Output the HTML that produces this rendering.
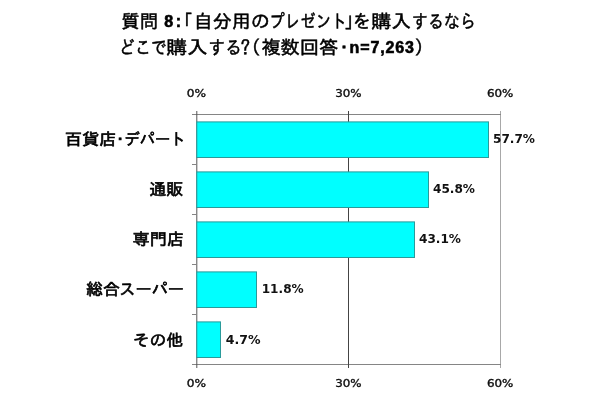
<!DOCTYPE html>
<html lang="ja"><head><meta charset="utf-8"><title>質問8</title>
<style>
html,body{margin:0;padding:0;background:#fff;overflow:hidden}
svg{display:block}
.t{font-family:'Liberation Sans','IPAGothic','Noto Sans CJK JP',sans-serif;font-weight:400;font-size:18.5px;fill:#000;stroke:#000;stroke-width:0.5px}
.t .n{font-size:16px;font-weight:700;stroke-width:0.6px}
.t .q{font-family:'IPAGothic','Liberation Sans','Noto Sans CJK JP',sans-serif}
.l{font-family:'Liberation Sans','IPAGothic','Noto Sans CJK JP',sans-serif;font-weight:400;font-size:16.2px;fill:#000;stroke:#000;stroke-width:0.65px}
.v{font-family:"DejaVu Sans","Liberation Sans",sans-serif;font-weight:bold;font-size:12.5px;fill:#111}
.a{font-family:"DejaVu Sans","Liberation Sans",sans-serif;font-size:11px;fill:#111;stroke:#111;stroke-width:0.4px;text-anchor:middle}
</style></head>
<body>
<svg width="600" height="400" viewBox="0 0 600 400">
<rect width="600" height="400" fill="#fff"/>
<text class="t" y="28.1" xml:space="preserve"><tspan x="121.2" y="28.1">質問</tspan> <tspan class="n" x="164.2" y="27.4" textLength="17.0" lengthAdjust="spacing">8:</tspan><tspan x="174.3" y="28.1">「</tspan><tspan x="193.7" y="28.1" textLength="76.1" lengthAdjust="spacingAndGlyphs">自分用の</tspan><tspan x="269.3" y="28.1" textLength="77.4" lengthAdjust="spacingAndGlyphs">プレゼント</tspan><tspan x="344.2" y="28.1">」</tspan><tspan x="352.5" y="28.1">を</tspan><tspan x="371.3" y="28.1" textLength="39.8" lengthAdjust="spacingAndGlyphs">購入</tspan><tspan x="412.1" y="28.1" textLength="63.5" lengthAdjust="spacingAndGlyphs">するなら</tspan></text>
<text class="t" y="53.9" xml:space="preserve"><tspan x="119.1" y="53.9" textLength="47.8" lengthAdjust="spacingAndGlyphs">どこで</tspan><tspan x="166.2" y="53.9" textLength="41.4" lengthAdjust="spacingAndGlyphs">購入</tspan><tspan x="208.6" y="53.9" textLength="33.2" lengthAdjust="spacingAndGlyphs">する</tspan><tspan class="q" x="240.8" y="53.9">?</tspan><tspan x="241.9" y="53.9">（</tspan><tspan x="261.4" y="53.9" textLength="76.9" lengthAdjust="spacingAndGlyphs">複数回答</tspan><tspan x="334.7" y="53.9">・</tspan><tspan class="n" x="349.5" y="53.2" textLength="64.5" lengthAdjust="spacing">n=7,263</tspan><tspan x="414.4" y="53.9">）</tspan></text>
<g shape-rendering="crispEdges" stroke-width="1">
<line x1="500.5" y1="111" x2="500.5" y2="368" stroke="#a8a8a8"/>
<line x1="192" y1="114.5" x2="501" y2="114.5" stroke="#858585"/>
<line x1="192" y1="364.5" x2="501" y2="364.5" stroke="#858585"/>
<line x1="348.5" y1="111" x2="348.5" y2="368" stroke="#444"/>
<line x1="196.8" y1="111" x2="196.8" y2="368" stroke="#555" shape-rendering="auto"/>
<line x1="192" y1="164.5" x2="197" y2="164.5" stroke="#858585"/>
<line x1="192" y1="214.5" x2="197" y2="214.5" stroke="#858585"/>
<line x1="192" y1="264.5" x2="197" y2="264.5" stroke="#858585"/>
<line x1="192" y1="314.5" x2="197" y2="314.5" stroke="#858585"/>
</g>
<g fill="#00ffff" stroke="#2a9a9a" stroke-width="1">
<rect x="196.8" y="121.9" width="291.7" height="35.6"/>
<rect x="196.8" y="171.9" width="231.7" height="35.6"/>
<rect x="196.8" y="221.9" width="217.7" height="35.6"/>
<rect x="196.8" y="271.9" width="59.7" height="35.6"/>
<rect x="196.8" y="321.9" width="23.7" height="35.6"/>
</g>
<text class="l" y="144.7" xml:space="preserve"><tspan x="64.7" y="144.7" textLength="52.0" lengthAdjust="spacingAndGlyphs">百貨店</tspan><tspan x="112.0" y="144.7">・</tspan><tspan x="124.4" y="144.7" textLength="61.3" lengthAdjust="spacingAndGlyphs">デパート</tspan></text>
<text class="l" y="194.7" xml:space="preserve"><tspan x="149.2" y="194.7" textLength="34.1" lengthAdjust="spacingAndGlyphs">通販</tspan></text>
<text class="l" y="244.7" xml:space="preserve"><tspan x="132.6" y="244.7" textLength="51.6" lengthAdjust="spacingAndGlyphs">専門店</tspan></text>
<text class="l" y="294.7" xml:space="preserve"><tspan x="86.0" y="294.7" textLength="33.8" lengthAdjust="spacingAndGlyphs">総合</tspan><tspan x="119.3" y="294.7">スーパー</tspan></text>
<text class="l" y="345.5" xml:space="preserve"><tspan x="132.8" y="345.5" textLength="50.4" lengthAdjust="spacingAndGlyphs">その他</tspan></text>
<text class="v" x="493" y="143.1" textLength="42.0" lengthAdjust="spacingAndGlyphs">57.7%</text>
<text class="v" x="433" y="193.1" textLength="42.0" lengthAdjust="spacingAndGlyphs">45.8%</text>
<text class="v" x="419" y="243.1" textLength="42.0" lengthAdjust="spacingAndGlyphs">43.1%</text>
<text class="v" x="261.7" y="293.3" textLength="42.0" lengthAdjust="spacingAndGlyphs">11.8%</text>
<text class="v" x="225.7" y="343.5" textLength="34.8" lengthAdjust="spacingAndGlyphs">4.7%</text>
<text class="a" x="196.5" y="97" textLength="19.3" lengthAdjust="spacingAndGlyphs">0%</text>
<text class="a" x="348.4" y="97" textLength="26.4" lengthAdjust="spacingAndGlyphs">30%</text>
<text class="a" x="500.2" y="97" textLength="26.4" lengthAdjust="spacingAndGlyphs">60%</text>
<text class="a" x="196.5" y="386.6" textLength="19.3" lengthAdjust="spacingAndGlyphs">0%</text>
<text class="a" x="348.4" y="386.6" textLength="26.4" lengthAdjust="spacingAndGlyphs">30%</text>
<text class="a" x="500.2" y="386.6" textLength="26.4" lengthAdjust="spacingAndGlyphs">60%</text>
</svg>
</body></html>
